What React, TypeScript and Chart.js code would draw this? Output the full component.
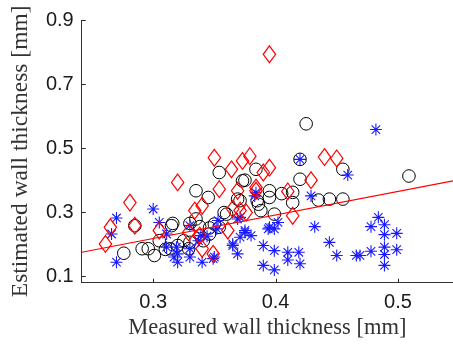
import React, { useEffect, useRef } from 'react';
import { Chart, registerables } from 'chart.js';

Chart.register(...registerables);

const X_MIN = 0.2416;
const X_MAX = 0.545;
const Y_MIN = 0.08;
const Y_MAX = 0.9;
const xTickValues = [0.3, 0.4, 0.5];
const yTickValues = [0.1, 0.3, 0.5, 0.7, 0.9];
const xTitle = 'Measured wall thickness [mm]';
const yTitle = 'Estimated wall thickness [mm]';

// linear fit (red line)
const fitSlope = 0.735;
const fitIntercept = -0.0026;

// blue asterisks
const asteriskPoints: [number, number][] = [
  [0.270, 0.282], [0.266, 0.232], [0.270, 0.144], [0.300, 0.310], [0.305, 0.268],
  [0.311, 0.232], [0.311, 0.191], [0.317, 0.160], [0.319, 0.191], [0.320, 0.144],
  [0.320, 0.170], [0.330, 0.258], [0.330, 0.186], [0.330, 0.160], [0.337, 0.211],
  [0.339, 0.227], [0.340, 0.144], [0.344, 0.225], [0.349, 0.155], [0.350, 0.160],
  [0.352, 0.248], [0.353, 0.274], [0.365, 0.201], [0.365, 0.196], [0.369, 0.170],
  [0.369, 0.279], [0.371, 0.222], [0.371, 0.284], [0.375, 0.237], [0.375, 0.243],
  [0.380, 0.227], [0.383, 0.351], [0.384, 0.361], [0.390, 0.196], [0.390, 0.134],
  [0.394, 0.248], [0.395, 0.253], [0.399, 0.248], [0.402, 0.268], [0.399, 0.180],
  [0.399, 0.120], [0.410, 0.175], [0.410, 0.151], [0.419, 0.175], [0.420, 0.139],
  [0.420, 0.465], [0.429, 0.351], [0.432, 0.255], [0.444, 0.206], [0.450, 0.165],
  [0.459, 0.416], [0.466, 0.165], [0.482, 0.558], [0.484, 0.284], [0.478, 0.255],
  [0.489, 0.261], [0.489, 0.230], [0.499, 0.234], [0.489, 0.191], [0.499, 0.183],
  [0.478, 0.178], [0.469, 0.165], [0.489, 0.168], [0.489, 0.134],
];

// black circles
const circlePoints: [number, number][] = [
  [0.276, 0.172], [0.291, 0.186], [0.296, 0.186], [0.301, 0.165], [0.285, 0.258],
  [0.310, 0.184], [0.315, 0.258], [0.305, 0.211], [0.320, 0.196], [0.330, 0.206],
  [0.329, 0.186], [0.314, 0.186], [0.325, 0.211], [0.335, 0.279], [0.335, 0.367],
  [0.345, 0.346], [0.346, 0.232], [0.341, 0.211], [0.350, 0.263], [0.354, 0.253],
  [0.338, 0.255], [0.346, 0.251], [0.360, 0.294], [0.358, 0.299], [0.371, 0.336],
  [0.373, 0.398], [0.354, 0.424], [0.375, 0.400], [0.384, 0.434], [0.386, 0.325],
  [0.369, 0.341], [0.385, 0.336], [0.388, 0.305], [0.395, 0.367], [0.405, 0.358],
  [0.414, 0.362], [0.395, 0.346], [0.414, 0.330], [0.399, 0.294], [0.420, 0.403],
  [0.420, 0.465], [0.425, 0.576], [0.435, 0.338], [0.444, 0.341], [0.455, 0.341],
  [0.455, 0.434], [0.509, 0.413], [0.316, 0.265], [0.330, 0.265],
];

// red diamonds
const diamondPoints: [number, number][] = [
  [0.261, 0.201], [0.265, 0.253], [0.281, 0.330], [0.285, 0.258], [0.305, 0.243],
  [0.320, 0.393], [0.334, 0.305], [0.340, 0.320], [0.329, 0.237], [0.338, 0.227],
  [0.340, 0.186], [0.349, 0.170], [0.350, 0.470], [0.354, 0.372], [0.361, 0.243],
  [0.364, 0.434], [0.369, 0.367], [0.373, 0.460], [0.379, 0.475], [0.365, 0.310],
  [0.371, 0.305], [0.376, 0.299], [0.384, 0.367], [0.384, 0.377], [0.390, 0.424],
  [0.395, 0.439], [0.395, 0.793], [0.410, 0.365], [0.414, 0.289], [0.429, 0.400],
  [0.440, 0.472], [0.450, 0.468],
];

// custom plugin draws tall diamonds at the dataset element positions
const diamondMarkers = {
  id: 'diamondMarkers',
  afterDatasetsDraw(chart: any) {
    const { ctx, chartArea } = chart;
    const meta = chart.getDatasetMeta(1);
    ctx.save();
    ctx.beginPath();
    ctx.rect(chartArea.left, chartArea.top, chartArea.right - chartArea.left, chartArea.bottom - chartArea.top);
    ctx.clip();
    ctx.strokeStyle = '#ff0000';
    ctx.lineWidth = 1.2;
    const hw = 6.2, hh = 8.4;
    meta.data.forEach((el: any) => {
      const x = el.x, y = el.y;
      ctx.beginPath();
      ctx.moveTo(x, y - hh);
      ctx.lineTo(x + hw, y);
      ctx.lineTo(x, y + hh);
      ctx.lineTo(x - hw, y);
      ctx.closePath();
      ctx.stroke();
    });
    ctx.restore();
  },
};

const innerTicks = {
  id: 'innerTicks',
  afterDraw(chart: any) {
    const { ctx, chartArea } = chart;
    const xs = chart.scales.x, ys = chart.scales.y;
    ctx.save();
    ctx.strokeStyle = '#262626';
    ctx.lineWidth = 1;
    ctx.beginPath();
    xTickValues.forEach((v) => {
      const px = Math.round(xs.getPixelForValue(v)) + 0.5;
      ctx.moveTo(px, chartArea.bottom);
      ctx.lineTo(px, chartArea.bottom - 4);
    });
    yTickValues.forEach((v) => {
      const py = Math.round(ys.getPixelForValue(v)) + 0.5;
      ctx.moveTo(chartArea.left, py);
      ctx.lineTo(chartArea.left + 4, py);
    });
    ctx.stroke();
    ctx.restore();
  },
};

export default function App() {
  const ref = useRef<HTMLCanvasElement>(null);
  useEffect(() => {
    if (!ref.current) return;
    const toXY = (p: [number, number]) => ({ x: p[0], y: p[1] });
    const chart = new Chart(ref.current, {
      type: 'scatter',
      data: {
        datasets: [
          {
            type: 'line',
            data: [X_MIN, X_MAX].map((x) => ({ x, y: fitSlope * x + fitIntercept })),
            borderColor: '#ff0000',
            borderWidth: 1.2,
            pointRadius: 0,
            fill: false,
            order: 0,
          } as any,
          {
            data: diamondPoints.map(toXY),
            pointRadius: 0,
            order: 1,
          },
          {
            data: asteriskPoints.map(toXY),
            pointStyle: 'star',
            pointRadius: 6,
            borderColor: '#1a1aff',
            backgroundColor: '#1a1aff',
            borderWidth: 1.1,
            order: 2,
          },
          {
            data: circlePoints.map(toXY),
            pointStyle: 'circle',
            pointRadius: 6.3,
            borderColor: '#000000',
            backgroundColor: 'rgba(0,0,0,0)',
            borderWidth: 1,
            order: 3,
          },
        ],
      },
      options: {
        animation: false,
        responsive: false,
        devicePixelRatio: 1,
        layout: { autoPadding: false, padding: { top: 18.3, right: 0, left: 0, bottom: 0 } },
        plugins: { legend: { display: false }, tooltip: { enabled: false } },
        scales: {
          x: {
            type: 'linear',
            min: X_MIN,
            max: X_MAX,
            afterBuildTicks: (s: any) => { s.ticks = xTickValues.map((v) => ({ value: v })); },
            afterFit: (s: any) => { s.height = 65.3; },
            grid: { display: false, drawTicks: false },
            border: { display: true, color: '#333333', width: 1 },
            ticks: {
              padding: 8,
              color: '#1a1a1a',
              font: { family: 'Liberation Sans', size: 20 },
              callback: (v: any) => Number(v).toFixed(1),
            },
            title: {
              display: true,
              text: xTitle,
              color: '#333333',
              font: { family: 'Liberation Serif', size: 22.5 },
              padding: { top: 0, bottom: 6 },
            },
          },
          y: {
            type: 'linear',
            min: Y_MIN,
            max: Y_MAX,
            afterBuildTicks: (s: any) => { s.ticks = yTickValues.map((v) => ({ value: v })); },
            afterFit: (s: any) => { s.width = 81.7; },
            grid: { display: false, drawTicks: false },
            border: { display: true, color: '#333333', width: 1 },
            ticks: {
              padding: 8,
              color: '#1a1a1a',
              font: { family: 'Liberation Sans', size: 20 },
              callback: (v: any) => Number(v).toFixed(1),
            },
            title: {
              display: true,
              text: yTitle,
              color: '#333333',
              font: { family: 'Liberation Serif', size: 23.5 },
              padding: { top: 7, bottom: 0 },
            },
          },
        },
      },
      plugins: [diamondMarkers, innerTicks],
    });
    return () => chart.destroy();
  }, []);
  return (
    <div style={{ position: 'absolute', left: 0, top: 0, width: 453, height: 348, background: '#fff' }}>
      <canvas ref={ref} width={453} height={348} style={{ width: 453, height: 348 }} />
    </div>
  );
}
